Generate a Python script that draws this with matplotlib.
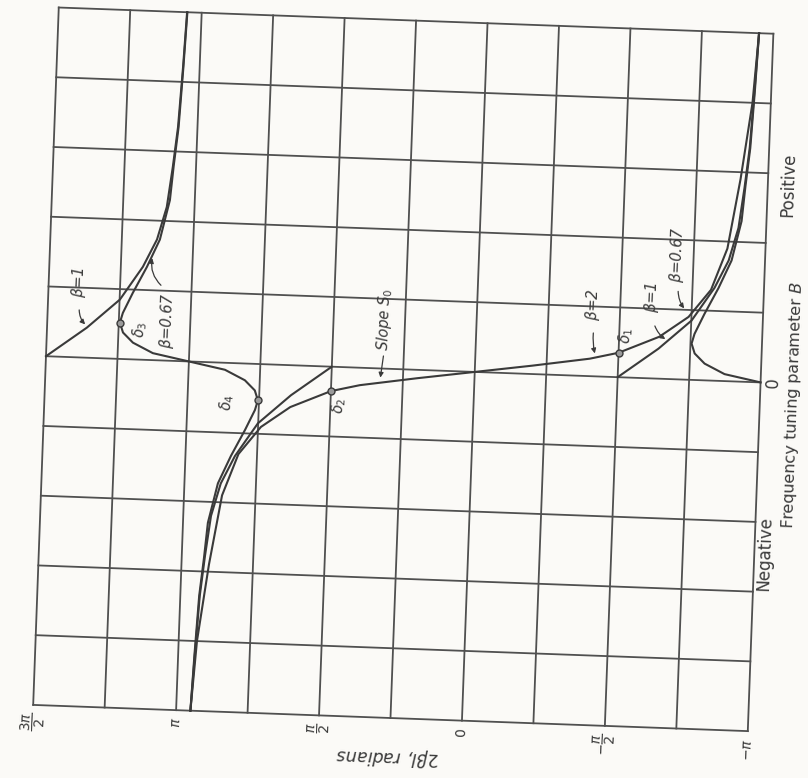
import numpy as np
import matplotlib
matplotlib.use('Agg')
import matplotlib.pyplot as plt
from matplotlib.transforms import Affine2D

# 2*beta*l is kept in units of pi, B in grid units (one row = one unit)
phase_ticks = [1.5, 1.0, 0.5, 0.0, -0.5, -1.0]
phase_labels = [r'$\dfrac{3\pi}{2}$', r'$\pi$', r'$\dfrac{\pi}{2}$', '0',
                r'$-\dfrac{\pi}{2}$', r'$-\pi$']

# beta = 2, the curve through the origin (slope S0)
b2_B = [-5.0, -4.0, -2.9, -1.9, -1.3, -0.9, -0.6, -0.35, -0.25, -0.12,
        0.0, 0.12, 0.25, 0.35, 0.6, 0.9, 1.3, 1.9, 2.9, 4.0, 5.0]
b2_phase = [0.95, 0.936, 0.904, 0.867, 0.815, 0.74, 0.64, 0.50, 0.40, 0.20,
            0.0, -0.20, -0.40, -0.50, -0.64, -0.74, -0.815, -0.867, -0.904, -0.936, -0.95]

# beta = 1, three branches
b1_right_B = [0.0, 0.43, 0.85, 1.33, 1.73, 2.2, 2.78, 3.35, 4.22, 5.0]
b1_right_phase = [-0.5, -0.639, -0.751, -0.827, -0.873, -0.903, -0.919, -0.932, -0.942, -0.95]
b1_left_B = [0.0, 0.43, 0.85, 1.33, 1.73, 2.2, 2.78, 3.35, 4.22, 5.0]
b1_left_phase = [1.5, 1.361, 1.249, 1.173, 1.127, 1.097, 1.081, 1.068, 1.058, 1.051]
b1_low_B = [0.0, -0.43, -0.85, -1.33, -1.73, -2.2, -2.78, -3.35, -4.22, -5.0]
b1_low_phase = [0.5, 0.639, 0.751, 0.827, 0.873, 0.903, 0.919, 0.932, 0.942, 0.95]

# beta = 0.67, curve around pi and the piece rising from the right edge
b067_B = [-5.0, -4.2, -3.35, -2.8, -2.3, -1.73, -1.33, -0.95, -0.66, -0.52, -0.38,
          -0.24, -0.10, 0.0, 0.10, 0.24, 0.38, 0.52, 0.66, 0.95, 1.33, 1.73, 2.3,
          2.8, 3.35, 4.2, 5.0]
b067_phase = [0.95, 0.943, 0.934, 0.922, 0.913, 0.883, 0.841, 0.795, 0.763, 0.754, 0.766,
              0.802, 0.873, 1.0, 1.127, 1.198, 1.234, 1.246, 1.237, 1.205, 1.159, 1.117,
              1.087, 1.078, 1.066, 1.057, 1.05]
b067_right_B = [0.0, 0.10, 0.24, 0.38, 0.52, 0.66, 0.95, 1.33, 1.73, 2.3, 2.8, 3.35, 4.2, 5.0]
b067_right_phase = [-1.0, -0.873, -0.802, -0.766, -0.754, -0.763, -0.795, -0.841, -0.883,
                    -0.913, -0.922, -0.934, -0.943, -0.95]

# marked points delta 1..4
delta_names = [r'$\delta_1$', r'$\delta_2$', r'$\delta_3$', r'$\delta_4$']
delta_phase = [-0.5, 0.5, 1.246, 0.754]
delta_B = [0.35, -0.35, 0.52, -0.52]

ink = '#3a3a3a'
grid_ink = '#505050'
paper = '#fbfaf7'

fig = plt.figure(figsize=(8.08, 7.78), dpi=100)
fig.patch.set_facecolor(paper)
ax = fig.add_axes([0.0566, 0.0768, 0.885, 0.897])
ax.set_xlim(1.5, -1.0)
ax.set_ylim(-5, 5)
ax.axis('off')

# the scanned sheet sits slightly tilted
tilt = -2.1
cx, cy = ax.transAxes.transform((0.5, 0.5))
rot = ax.transData + Affine2D().rotate_deg_around(cx, cy, tilt)

# grid and frame
for x in np.linspace(-1.0, 1.5, 11):
    ax.plot([x, x], [-5, 5], color=grid_ink, lw=1.3, transform=rot, clip_on=False)
for y in np.linspace(-5, 5, 11):
    ax.plot([1.5, -1.0], [y, y], color=grid_ink, lw=1.3, transform=rot, clip_on=False)

# curves
curves = [(b2_phase, b2_B), (b1_right_phase, b1_right_B), (b1_left_phase, b1_left_B),
          (b1_low_phase, b1_low_B), (b067_phase, b067_B), (b067_right_phase, b067_right_B)]
for ph, bb in curves:
    ax.plot(ph, bb, color=ink, lw=1.5, transform=rot, clip_on=False,
            solid_joinstyle='round')

ax.plot(delta_phase, delta_B, ls='none', marker='o', ms=5, mfc='#9a9a9a', mec=ink,
        mew=1.0, transform=rot, clip_on=False)

tr = 90 + tilt
lab = dict(transform=rot, rotation=tr, ha='center', va='center', color=ink,
           fontsize=10.5, style='italic', clip_on=False)

# curve labels
ax.text(1.395, 1.07, r'$\beta$=1', **lab)
ax.text(1.08, 0.58, r'$\beta$=0.67', **lab)
ax.text(-0.405, 1.02, r'$\beta$=2', **lab)
ax.text(-0.61, 1.16, r'$\beta$=1', **lab)
ax.text(-0.695, 1.78, r'$\beta$=0.67', **lab)
ax.text(0.32, 0.70, r'Slope $S_0$', **lab)

# delta labels
ax.text(1.175, 0.43, delta_names[2], **lab)
ax.text(0.86, -0.57, delta_names[3], **lab)
ax.text(0.47, -0.55, delta_names[1], **lab)
ax.text(-0.525, 0.60, delta_names[0], **lab)

arrow = dict(arrowstyle='-|>', lw=0.9, color=ink, mutation_scale=7)
pointers = [((1.36, 0.45), (1.39, 0.72), 0.25),
            ((1.14, 1.50), (1.10, 1.05), -0.3),
            ((-0.42, 0.29), (-0.41, 0.66), 0.1),
            ((-0.67, 0.55), (-0.62, 0.79), 0.2),
            ((-0.73, 0.99), (-0.70, 1.30), 0.2),
            ((0.33, -0.17), (0.32, 0.22), 0.0)]
for tip, tail, rad in pointers:
    ax.annotate('', xy=tip, xycoords=rot, xytext=tail, textcoords=rot,
                arrowprops=dict(connectionstyle='arc3,rad=%s' % rad, **arrow),
                annotation_clip=False)

# phase axis ticks and title
for v, s in zip(phase_ticks, phase_labels):
    ax.text(v, -5.1, s, transform=rot, rotation=tr, ha='center', va='top',
            color=ink, fontsize=10, clip_on=False)
ax.text(0.255, -5.55, r'$2\beta l$, radians', transform=rot, rotation=180 + tilt,
        ha='center', va='center', color=ink, fontsize=12.5, style='italic',
        clip_on=False)

# B axis text on the right
side = dict(transform=rot, rotation=tr, ha='center', va='center', color=ink,
            fontsize=12, clip_on=False)
ax.text(-1.072, 2.84, 'Positive', **side)
ax.text(-1.044, 0.0, '0', **side)
ax.text(-1.038, -2.45, 'Negative', **side)
ax.text(-1.118, -0.31, r'Frequency tuning parameter $B$', fontsize=11.5,
        **{k: v for k, v in side.items() if k != 'fontsize'})

fig.savefig('out.png', dpi=100, facecolor=paper)
